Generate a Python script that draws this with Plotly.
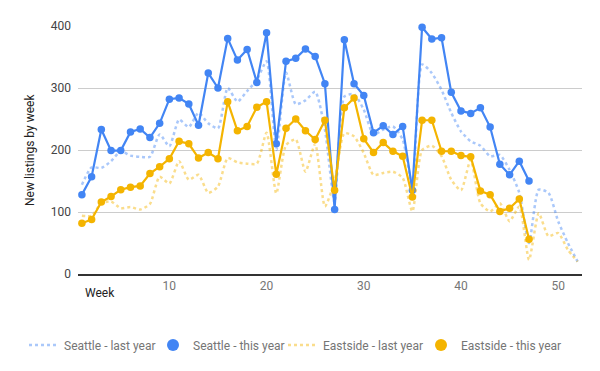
import plotly.graph_objects as go

weeks_all = list(range(1, 53))
weeks_this = list(range(1, 48))

seattle_last = [144, 172, 171, 182, 198, 191, 189, 189, 225, 206,
                249, 237, 260, 243, 235, 300, 278, 295, 313, 343,
                200, 325, 274, 280, 294, 233, 115, 286, 290, 265,
                225, 233, 238, 217, 141, 338, 324, 297, 260, 230,
                214, 207, 190, 192, 168, 131, 50, 136, 131, 85,
                50, 20]
seattle_this = [128, 157, 233, 199, 199, 229, 234, 220, 243, 282,
                284, 274, 240, 324, 300, 380, 345, 362, 309, 389,
                210, 343, 348, 363, 351, 307, 104, 378, 307, 288,
                228, 239, 225, 238, 135, 398, 379, 381, 293, 263,
                259, 268, 237, 177, 160, 182, 150]
eastside_last = [94, 94, 114, 117, 106, 108, 104, 113, 157, 146,
                 182, 152, 160, 131, 141, 187, 180, 178, 178, 228,
                 130, 208, 217, 165, 210, 109, 150, 227, 222, 195,
                 160, 163, 165, 155, 101, 200, 207, 190, 152, 135,
                 184, 114, 101, 114, 85, 109, 23, 98, 61, 66,
                 39, 20]
eastside_this = [82, 88, 116, 125, 136, 140, 142, 162, 173, 186,
                 214, 210, 187, 196, 186, 278, 231, 238, 269, 278,
                 161, 235, 250, 231, 217, 248, 135, 268, 284, 218,
                 196, 212, 198, 190, 124, 248, 248, 198, 198, 191,
                 189, 134, 128, 101, 106, 121, 56]

x_ticks = [10, 20, 30, 40, 50]
y_ticks = [0, 100, 200, 300, 400]
names = ["Seattle - last year", "Seattle - this year",
         "Eastside - last year", "Eastside - this year"]

BLUE = "#4285F4"
YELLOW = "#F4B400"
BLUE_L = "rgba(66,133,244,0.45)"
YELLOW_L = "rgba(244,180,0,0.45)"

fig = go.Figure()
fig.add_trace(go.Scatter(x=weeks_all, y=seattle_last, mode="lines", name=names[0],
                         line=dict(color=BLUE_L, width=2.5, dash="dot", shape="spline", smoothing=0.6),
                         cliponaxis=False, legend="legend"))
fig.add_trace(go.Scatter(x=weeks_this, y=seattle_this, mode="lines+markers", name=names[1],
                         line=dict(color=BLUE, width=2.2), marker=dict(size=7.5, color=BLUE),
                         cliponaxis=False, showlegend=False, legendgroup="st"))
fig.add_trace(go.Scatter(x=weeks_all, y=eastside_last, mode="lines", name=names[2],
                         line=dict(color=YELLOW_L, width=2.5, dash="dot", shape="spline", smoothing=0.6),
                         cliponaxis=False, legend="legend3"))
fig.add_trace(go.Scatter(x=weeks_this, y=eastside_this, mode="lines+markers", name=names[3],
                         line=dict(color=YELLOW, width=2.2), marker=dict(size=7.5, color=YELLOW),
                         cliponaxis=False, showlegend=False, legendgroup="et"))
# legend-only entries (circle symbols)
fig.add_trace(go.Scatter(x=[None], y=[None], mode="markers", name=names[1],
                         marker=dict(size=12, color=BLUE), legendgroup="st", legend="legend2"))
fig.add_trace(go.Scatter(x=[None], y=[None], mode="markers", name=names[3],
                         marker=dict(size=12, color=YELLOW), legendgroup="et", legend="legend4"))


def leg(px):
    return dict(orientation="h", x=(px - 78) / 504, xanchor="left",
                y=(274 - 345) / 248, yanchor="middle",
                font=dict(size=12, color="#757575"), itemwidth=30,
                bgcolor="rgba(0,0,0,0)")


fig.update_layout(
    width=600, height=371,
    margin=dict(l=78, r=18, t=26, b=97, autoexpand=False),
    paper_bgcolor="white", plot_bgcolor="white",
    font=dict(family="Roboto, Arial, sans-serif", size=12, color="#757575"),
    showlegend=True,
    legend=leg(24), legend2=leg(153), legend3=leg(283), legend4=leg(421),
    xaxis=dict(range=[0.6, 52.45], tickvals=x_ticks, showgrid=False,
               zeroline=False, showline=True, linecolor="#333333", linewidth=1.5,
               ticks="", automargin=False, tickfont=dict(size=12, color="#757575")),
    yaxis=dict(range=[0, 400], tickvals=y_ticks, showgrid=True, gridcolor="#cccccc",
               zeroline=False, showline=False, ticks="", ticklabelstandoff=6,
               automargin=False, tickfont=dict(size=12, color="#444444")),
    annotations=[
        dict(text="Week", xref="paper", yref="paper", x=(100 - 78) / 504, y=-19 / 248,
             xanchor="center", yanchor="middle", showarrow=False,
             font=dict(size=12, color="#222222")),
        dict(text="New listings by week", xref="paper", yref="paper", x=(30 - 78) / 504, y=0.5,
             xanchor="center", yanchor="middle", textangle=-90, showarrow=False,
             font=dict(size=12, color="#222222")),
    ],
)

fig.write_html("out.html", post_script="document.body.style.margin='0';",
               config={"displayModeBar": False})
